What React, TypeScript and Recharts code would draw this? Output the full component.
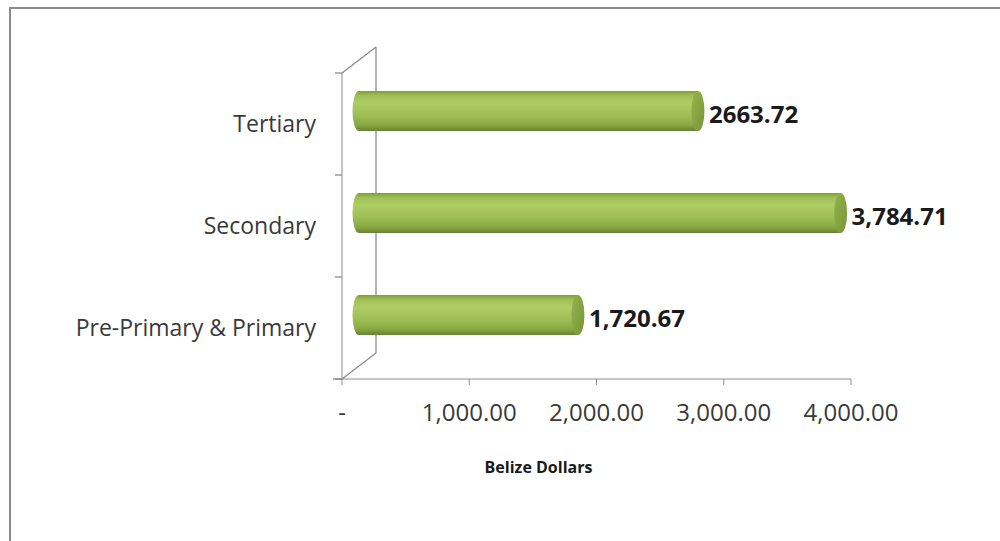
import { BarChart, Bar, XAxis, YAxis, LabelList, Label, usePlotArea } from 'recharts';

const categories = ['Tertiary', 'Secondary', 'Pre-Primary & Primary'];
const spending = [2663.72, 3784.71, 1720.67];
const valueLabels = ['2663.72', '3,784.71', '1,720.67'];
const xTicks = [0, 1000, 2000, 3000, 4000];

const chartData = categories.map((name, i) => ({
  name,
  value: spending[i],
  label: valueLabels[i],
}));

// 3D depth of the Excel-style back wall
const DEPTH_X = 34;
const DEPTH_Y = -26;
const AXIS_COLOR = '#8c8c8c';
const FONT = '"Open Sans", sans-serif';

function formatTick(v: number): string {
  if (v === 0) {
    return '-';
  }
  return v.toLocaleString('en-US', { minimumFractionDigits: 2, maximumFractionDigits: 2 });
}

function Cylinder(props: any) {
  const { x, y, width, height } = props;
  const bx = x + DEPTH_X / 2;
  const by = y + DEPTH_Y / 2;
  const ry = height / 2;
  const rx = 6.5;
  return (
    <g>
      <rect x={bx} y={by} width={width} height={height} fill='url(#cylBody)' />
      <ellipse cx={bx} cy={by + ry} rx={rx} ry={ry} fill='url(#cylBody)' />
      <ellipse cx={bx + width} cy={by + ry} rx={rx} ry={ry} fill='url(#cylCap)' />
    </g>
  );
}

function ValueLabel(props: any) {
  const { x, y, width, height, value } = props;
  return (
    <text
      x={x + width + DEPTH_X / 2 + 11}
      y={y + height / 2 + DEPTH_Y / 2 + 2}
      dominantBaseline='central'
      fontFamily={FONT}
      fontWeight={700}
      fontSize={24}
      fill='#1a1a1a'
    >
      {value}
    </text>
  );
}

function Frame3D() {
  const area = usePlotArea();
  if (!area) {
    return null;
  }
  const left = area.x;
  const top = area.y;
  const bottom = area.y + area.height;
  const band = area.height / categories.length;
  const boundaries = categories.map((_, i) => top + i * band).concat([bottom]);
  return (
    <g stroke={AXIS_COLOR} strokeWidth={1.3} fill='none'>
      <line x1={left} y1={top} x2={left + DEPTH_X} y2={top + DEPTH_Y} />
      <line x1={left + DEPTH_X} y1={top + DEPTH_Y} x2={left + DEPTH_X} y2={bottom + DEPTH_Y} />
      <line x1={left} y1={bottom} x2={left + DEPTH_X} y2={bottom + DEPTH_Y} />
      <line x1={left - 9} y1={bottom} x2={left} y2={bottom} />
      {boundaries.map((b, i) => (
        <line key={i} x1={left - 7} y1={b} x2={left} y2={b} />
      ))}
    </g>
  );
}

export default function App() {
  return (
    <div style={{ position: 'fixed', left: 0, top: 0, width: 1000, height: 541, background: '#fff', overflow: 'hidden' }}>
      <div
        style={{
          position: 'absolute',
          left: 9,
          top: 7,
          width: 1100,
          height: 700,
          borderLeft: '2px solid #8a8a8a',
          borderTop: '2px solid #8a8a8a',
        }}
      />
      <div style={{ position: 'absolute', left: 0, top: 0 }}>
        <svg width={0} height={0} style={{ position: 'absolute' }}>
          <defs>
            <linearGradient id='cylBody' x1='0' y1='0' x2='0' y2='1'>
              <stop offset='0%' stopColor='#7f9c3c' />
              <stop offset='12%' stopColor='#a0c057' />
              <stop offset='30%' stopColor='#aecd64' />
              <stop offset='60%' stopColor='#9fbf56' />
              <stop offset='85%' stopColor='#88a842' />
              <stop offset='100%' stopColor='#67842b' />
            </linearGradient>
            <linearGradient id='cylCap' x1='0' y1='0' x2='1' y2='1'>
              <stop offset='0%' stopColor='#94b44e' />
              <stop offset='100%' stopColor='#769536' />
            </linearGradient>
          </defs>
        </svg>
        <BarChart
          width={1000}
          height={541}
          data={chartData}
          layout='vertical'
          margin={{ top: 73, right: 149, left: 12, bottom: 102 }}
        >
          <XAxis
            type='number'
            domain={[0, 4000]}
            ticks={xTicks}
            tickFormatter={formatTick}
            height={60}
            stroke={AXIS_COLOR}
            tickSize={6}
            tickMargin={19}
            tick={{ fontFamily: FONT, fontSize: 24, fill: '#3a3a3a' }}
            interval={0}
          >
            <Label
              value='Belize Dollars'
              position='insideBottom'
              offset={-34}
              dx={-58}
              style={{ fontFamily: FONT, fontWeight: 700, fontSize: 16, fill: '#1a1a1a' }}
            />
          </XAxis>
          <YAxis
            type='category'
            dataKey='name'
            width={330}
            stroke={AXIS_COLOR}
            tickLine={false}
            tickSize={0}
            tickMargin={26}
            tick={{ fontFamily: FONT, fontSize: 23, fill: '#3a3a3a' }}
          />
          <Bar dataKey='value' barSize={40} shape={<Cylinder />} isAnimationActive={false}>
            <LabelList dataKey='label' content={<ValueLabel />} />
          </Bar>
          <Frame3D />
        </BarChart>
      </div>
    </div>
  );
}
